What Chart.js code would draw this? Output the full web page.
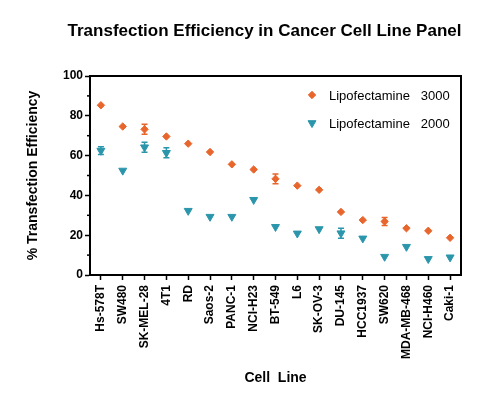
<!DOCTYPE html>
<html>
<head>
<meta charset="utf-8">
<script src="https://cdn.jsdelivr.net/npm/chart.js@4"></script>
<style>
  html, body { margin: 0; padding: 0; background: #fff; }
  #wrap { width: 500px; height: 412px; position: relative; }
</style>
</head>
<body>
<div id="wrap"><canvas id="chart"></canvas></div>
<script>
const cellLines = ['Hs-578T', 'SW480', 'SK-MEL-28', '4T1', 'RD', 'Saos-2', 'PANC-1', 'NCI-H23', 'BT-549',
    'L6', 'SK-OV-3', 'DU-145', 'HCC1937', 'SW620', 'MDA-MB-468', 'NCI-H460', 'Caki-1'];
const lipo3000 = [85.3, 74.6, 73.2, 69.6, 66.0, 61.8, 55.6, 53.0, 48.3, 44.9, 42.8, 31.7, 27.6, 26.9, 23.5, 22.2, 18.7];
const lipo3000Err = [0, 0, 2.5, 0, 0, 0, 0, 0, 2.5, 0, 0, 0, 0, 2, 0, 0, 0];
const lipo2000 = [62.5, 52.5, 64.2, 61.4, 32.3, 29.3, 29.3, 37.8, 24.2, 20.9, 23.1, 21.0, 18.4, 9.2, 14.2, 8.1, 8.9];
const lipo2000Err = [2, 0, 2.5, 2.5, 0, 0, 0, 0, 0, 0, 0, 2.5, 0, 0, 0, 0, 0];
const yTicks = [0, 20, 40, 60, 80, 100];

const ORANGE = '#e8652c';
const TEAL = '#2b96ab';
const FONT = "'Liberation Sans', Arial, sans-serif";

Chart.defaults.font.family = FONT;
Chart.defaults.color = '#000';

// error bars, frame, minor ticks, title and legend
const extras = {
    id: 'extras',
    beforeDatasetsDraw(chart) {
        const ctx = chart.ctx;
        const y = chart.scales.y;
        chart.data.datasets.forEach((ds, di) => {
            const meta = chart.getDatasetMeta(di);
            ctx.save();
            ctx.strokeStyle = ds.borderColor;
            ctx.lineWidth = 1.5;
            meta.data.forEach((pt, i) => {
                const e = ds.errors[i];
                if (!e) return;
                const top = y.getPixelForValue(ds.data[i] + e);
                const bot = y.getPixelForValue(ds.data[i] - e);
                ctx.beginPath();
                ctx.moveTo(pt.x, top); ctx.lineTo(pt.x, bot);
                ctx.moveTo(pt.x - 3, top); ctx.lineTo(pt.x + 3, top);
                ctx.moveTo(pt.x - 3, bot); ctx.lineTo(pt.x + 3, bot);
                ctx.stroke();
            });
            ctx.restore();
        });
    },
    afterDraw(chart) {
        const ctx = chart.ctx;
        const a = chart.chartArea;
        const y = chart.scales.y;
        ctx.save();
        ctx.strokeStyle = '#000';
        ctx.lineWidth = 2;
        ctx.beginPath();
        ctx.moveTo(a.left, a.top); ctx.lineTo(a.right, a.top); ctx.lineTo(a.right, a.bottom);
        ctx.stroke();

        // minor y ticks
        ctx.lineWidth = 1.5;
        const t = y.ticks;
        for (let i = 0; i < t.length - 1; i++) {
            const py = y.getPixelForValue((t[i].value + t[i + 1].value) / 2);
            ctx.beginPath();
            ctx.moveTo(a.left - 3, py); ctx.lineTo(a.left, py);
            ctx.stroke();
        }

        // title
        ctx.fillStyle = '#000';
        ctx.font = 'bold 17px ' + FONT;
        ctx.textAlign = 'center';
        ctx.textBaseline = 'middle';
        ctx.fillText('Transfection Efficiency in Cancer Cell Line Panel', 264.5, 31);

        // legend
        ctx.font = '13px ' + FONT;
        ctx.textAlign = 'left';
        chart.data.datasets.forEach((ds, di) => {
            const lx = a.right - 149;
            const ly = a.top + 19 + di * 28;
            ctx.fillStyle = ds.backgroundColor;
            ctx.strokeStyle = ds.borderColor;
            ctx.lineWidth = 1;
            Chart.helpers.drawPoint(ctx, {
                pointStyle: ds.pointStyle, radius: ds.pointRadius,
                rotation: ds.pointRotation || 0, borderWidth: 1
            }, lx, ly);
            ctx.fillStyle = '#000';
            ctx.fillText(ds.label, lx + 17, ly + 1);
        });
        ctx.restore();
    }
};

new Chart(document.getElementById('chart'), {
    type: 'line',
    data: {
        labels: cellLines,
        datasets: [
            {
                label: 'Lipofectamine   3000',
                data: lipo3000,
                errors: lipo3000Err,
                showLine: false,
                pointStyle: 'rectRot',
                pointRadius: 3.7,
                borderColor: ORANGE,
                backgroundColor: ORANGE,
                borderWidth: 1
            },
            {
                label: 'Lipofectamine   2000',
                data: lipo2000,
                errors: lipo2000Err,
                showLine: false,
                pointStyle: 'triangle',
                pointRotation: 180,
                rotation: 180,
                pointRadius: 4.6,
                borderColor: TEAL,
                backgroundColor: TEAL,
                borderWidth: 1
            }
        ]
    },
    options: {
        responsive: true,
        maintainAspectRatio: false,
        animation: false,
        layout: { padding: { top: 76, right: 39, bottom: 0, left: 0 } },
        plugins: {
            legend: { display: false },
            tooltip: { enabled: false }
        },
        scales: {
            x: {
                offset: true,
                afterFit: (s) => { s.height = 137; },
                grid: { drawOnChartArea: false, offset: false, tickLength: 5, tickWidth: 1.5, tickColor: '#000' },
                border: { color: '#000', width: 2 },
                ticks: {
                    autoSkip: false, minRotation: 90, maxRotation: 90, padding: 5,
                    color: '#000', font: { size: 12, weight: 'bold' }
                },
                title: {
                    display: true, text: 'Cell  Line', color: '#000',
                    font: { size: 14, weight: 'bold' }, padding: { top: 0, bottom: 25 }
                }
            },
            y: {
                min: 0, max: 100,
                afterFit: (s) => { s.width = 90; },
                afterBuildTicks: (s) => { s.ticks = yTicks.map(v => ({ value: v })); },
                grid: { drawOnChartArea: false, tickLength: 5, tickWidth: 1.5, tickColor: '#000' },
                border: { color: '#000', width: 2 },
                ticks: { padding: 2, color: '#000', font: { size: 12, weight: 'bold' } },
                title: {
                    display: true, text: '% Transfection Efficiency', color: '#000',
                    font: { size: 14, weight: 'bold' }, padding: { top: 25, bottom: 0 }
                }
            }
        }
    },
    plugins: [extras]
});
</script>
</body>
</html>
